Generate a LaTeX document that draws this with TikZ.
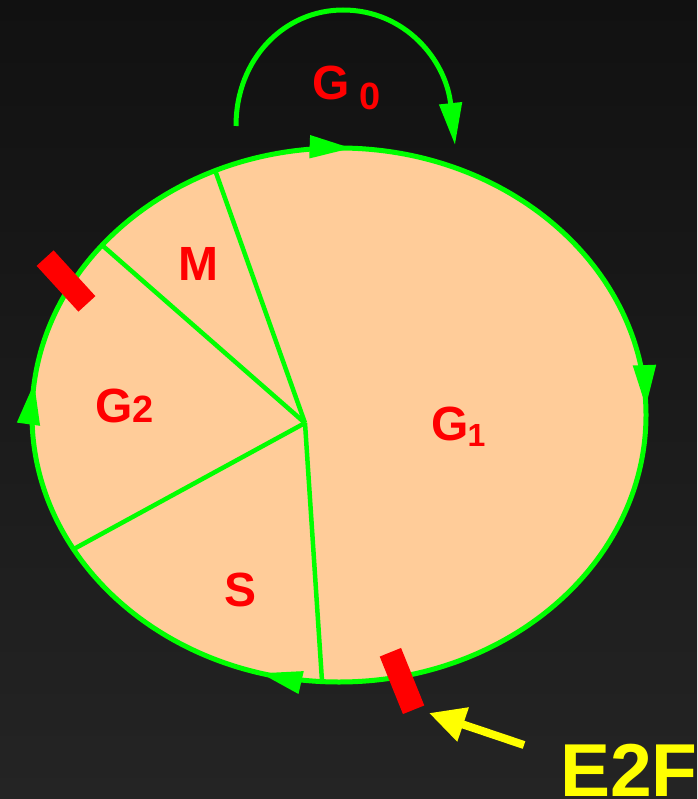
\documentclass[tikz,border=0pt]{standalone}
\usepackage{fontspec}
\setmainfont{Liberation Sans}
\usetikzlibrary{arrows.meta,decorations.markings}
\definecolor{bgtop}{RGB}{17,17,17}
\definecolor{bgbot}{RGB}{36,36,36}
\definecolor{peach}{RGB}{255,204,153}
\definecolor{cgreen}{RGB}{0,255,0}
\definecolor{cred}{RGB}{255,0,0}
\definecolor{cyel}{RGB}{255,255,0}
\tikzset{
  bigtip/.tip={Triangle[length=42pt,width=22pt]},
  lbl/.style={text=cred, font=\bfseries\fontsize{48}{48}\selectfont, inner sep=0pt, anchor=base west},
  spoke/.style={draw=cgreen, line width=4.5pt},
  marker/.style={fill=cred, inner sep=0pt, minimum width=62pt, minimum height=23pt},
  cellborder/.style={draw=cgreen, line width=5pt, postaction={decorate},
    decoration={markings,
      mark=at position 0.294 with {\arrow[cgreen]{bigtip}},
      mark=at position 0.518 with {\arrow[cgreen]{bigtip}},
      mark=at position 0.757 with {\arrow[cgreen]{bigtip}},
      mark=at position 0.9956 with {\arrow[cgreen]{bigtip}}}}
}
\begin{document}
\begin{tikzpicture}[x=1pt,y=-1pt]
\useasboundingbox (0,0) rectangle (697,799);
\shade[top color=bgtop, bottom color=bgbot] (0,0) rectangle (697,799);
% cell
\fill[peach] (339,415) ellipse [x radius=307, y radius=267];
\coordinate (c) at (305,423);
\coordinate (pm) at (215,170);
\coordinate (pg2) at (103,246);
\coordinate (ps) at (72,550);
\coordinate (pg1) at (322,681);
\draw[spoke] (c) -- (pm);
\draw[spoke] (c) -- (pg2);
\draw[spoke] (c) -- (ps);
\draw[spoke] (c) -- (pg1);
\draw[cellborder] (339,415) ellipse [x radius=307, y radius=267];
% checkpoints
\node[marker, rotate=-47.6] (r1) at (66,281) {};
\node[marker, rotate=-68] (r2) at (402,681) {};
% labels
\node[lbl] (lm) at (178,280) {M};
\node[lbl] (ls) at (224,606) {S};
\node[lbl] (lg2) at (95,422) {G\hspace{0pt}\fontsize{38}{38}\selectfont 2};
\node[lbl] (lg1) at (431,440) {G\hspace{-1pt}\raisebox{-6pt}{\fontsize{32}{32}\selectfont 1}};
\node[lbl] (lg0) at (312,100) {G\hspace{10pt}\raisebox{-10pt}{\fontsize{38}{38}\selectfont 0}};
% G0 loop
\coordinate (a0) at (236,126);
\coordinate (a1) at (455,145);
\draw[draw=cgreen, line width=5pt, -{bigtip}]
  (a0) .. controls (236,58) and (285,10) .. (343,10)
       .. controls (405,10) and (446,60) .. (a1);
% E2F
\node[text=cyel, font=\bfseries\fontsize{75}{75}\selectfont, inner sep=0pt, anchor=base west] (e2f) at (560,796) {E2F};
\coordinate (etail) at (524,745);
\coordinate (etip) at (429,713);
\draw[draw=cyel, line width=8pt, -{Triangle[length=36pt,width=34pt]}] (etail) -- (etip);
\end{tikzpicture}
\end{document}
